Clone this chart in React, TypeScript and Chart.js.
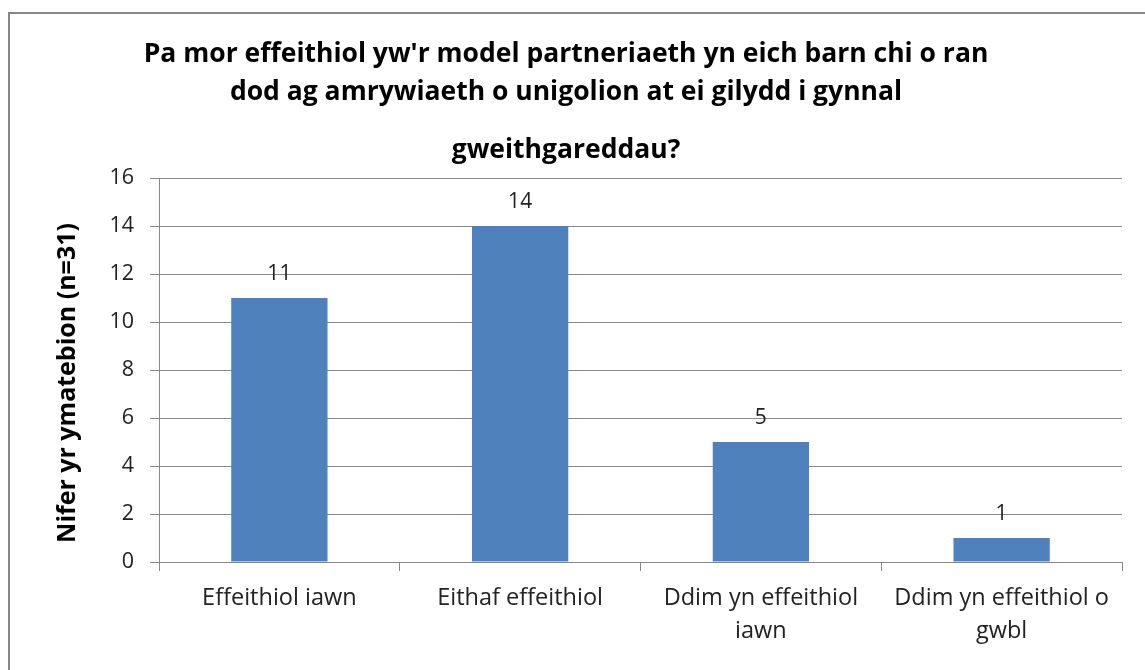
import { useEffect, useRef } from "react";
import { Chart, registerables } from "chart.js";

Chart.register(...registerables);

const categories: string[][] = [
  ["Effeithiol iawn"],
  ["Eithaf effeithiol"],
  ["Ddim yn effeithiol", "iawn"],
  ["Ddim yn effeithiol o", "gwbl"],
];
const values: number[] = [11, 14, 5, 1];
const titleLines: string[] = [
  "Pa mor effeithiol yw'r model partneriaeth yn eich barn chi o ran",
  "dod ag amrywiaeth o unigolion at ei gilydd i gynnal",
];
const subtitleLine = "gweithgareddau?";
const yAxisTitle = "Nifer yr ymatebion (n=31)";
const yMin = 0;
const yMax = 16;
const yStep = 2;

const FONT = "'Open Sans', Lato, 'DejaVu Sans', sans-serif";
const GRID = "#888888";

const dataLabels = {
  id: "dataLabels",
  afterDatasetsDraw(chart: any) {
    const ctx = chart.ctx;
    ctx.save();
    ctx.font = `21px ${FONT}`;
    ctx.fillStyle = "#222";
    ctx.textAlign = "center";
    ctx.textBaseline = "alphabetic";
    chart.data.datasets.forEach((ds: any, di: number) => {
      const meta = chart.getDatasetMeta(di);
      meta.data.forEach((bar: any, i: number) => {
        ctx.fillText(String(ds.data[i]), bar.x, bar.y - 18);
      });
    });
    ctx.restore();
  },
};

export default function App() {
  const ref = useRef<HTMLCanvasElement | null>(null);

  useEffect(() => {
    if (!ref.current) return;
    const chart = new Chart(ref.current, {
      type: "bar",
      data: {
        labels: categories,
        datasets: [
          {
            data: values,
            backgroundColor: "#4F81BD",
            borderWidth: 0,
            barPercentage: 0.4,
            categoryPercentage: 1,
          },
        ],
      },
      options: {
        animation: false,
        responsive: true,
        maintainAspectRatio: false,
        layout: { padding: { left: 0, right: 36, top: 0, bottom: 0 } },
        plugins: {
          legend: { display: false },
          tooltip: { enabled: false },
          title: {
            display: true,
            text: titleLines,
            color: "#000",
            font: { family: FONT, size: 26.5, weight: "bold", lineHeight: 38 / 26.5 },
            padding: { top: 21, bottom: 20 },
          },
          subtitle: {
            display: true,
            text: subtitleLine,
            color: "#000",
            font: { family: FONT, size: 26.5, weight: "bold", lineHeight: 38 / 26.5 },
            padding: { top: 0, bottom: 9 },
          },
        },
        scales: {
          x: {
            grid: {
              offset: true,
              drawOnChartArea: false,
              drawTicks: true,
              tickLength: 9,
              color: GRID,
            },
            border: { color: GRID, width: 1 },
            ticks: {
              color: "#222",
              font: { family: FONT, size: 23.5, lineHeight: 33 / 23.5 },
              padding: 11,
              maxRotation: 0,
              autoSkip: false,
            },
            afterFit: (s: any) => {
              s.height = 148;
            },
          },
          y: {
            min: yMin,
            max: yMax,
            grid: { color: GRID, tickLength: 9, drawTicks: true },
            border: { color: GRID, width: 1 },
            ticks: {
              stepSize: yStep,
              color: "#222",
              font: { family: FONT, size: 21.5 },
              padding: 16,
            },
            title: {
              display: true,
              text: yAxisTitle + "    ",
              color: "#000",
              font: { family: FONT, size: 25, weight: "bold", lineHeight: 1.2 },
              padding: { top: 43, bottom: 0 },
            },
            afterFit: (s: any) => {
              s.width = 149;
            },
          },
        },
      },
      plugins: [dataLabels],
    });
    return () => chart.destroy();
  }, []);

  return (
    <div
      style={{
        position: "fixed",
        left: 0,
        top: 0,
        width: 1145,
        height: 670,
        overflow: "hidden",
        background: "#fff",
      }}
    >
      <div
        style={{
          position: "absolute",
          left: 8,
          top: 12,
          width: 1152,
          height: 700,
          border: "2px solid #878787",
          boxSizing: "border-box",
        }}
      >
        <canvas ref={ref} />
      </div>
    </div>
  );
}
